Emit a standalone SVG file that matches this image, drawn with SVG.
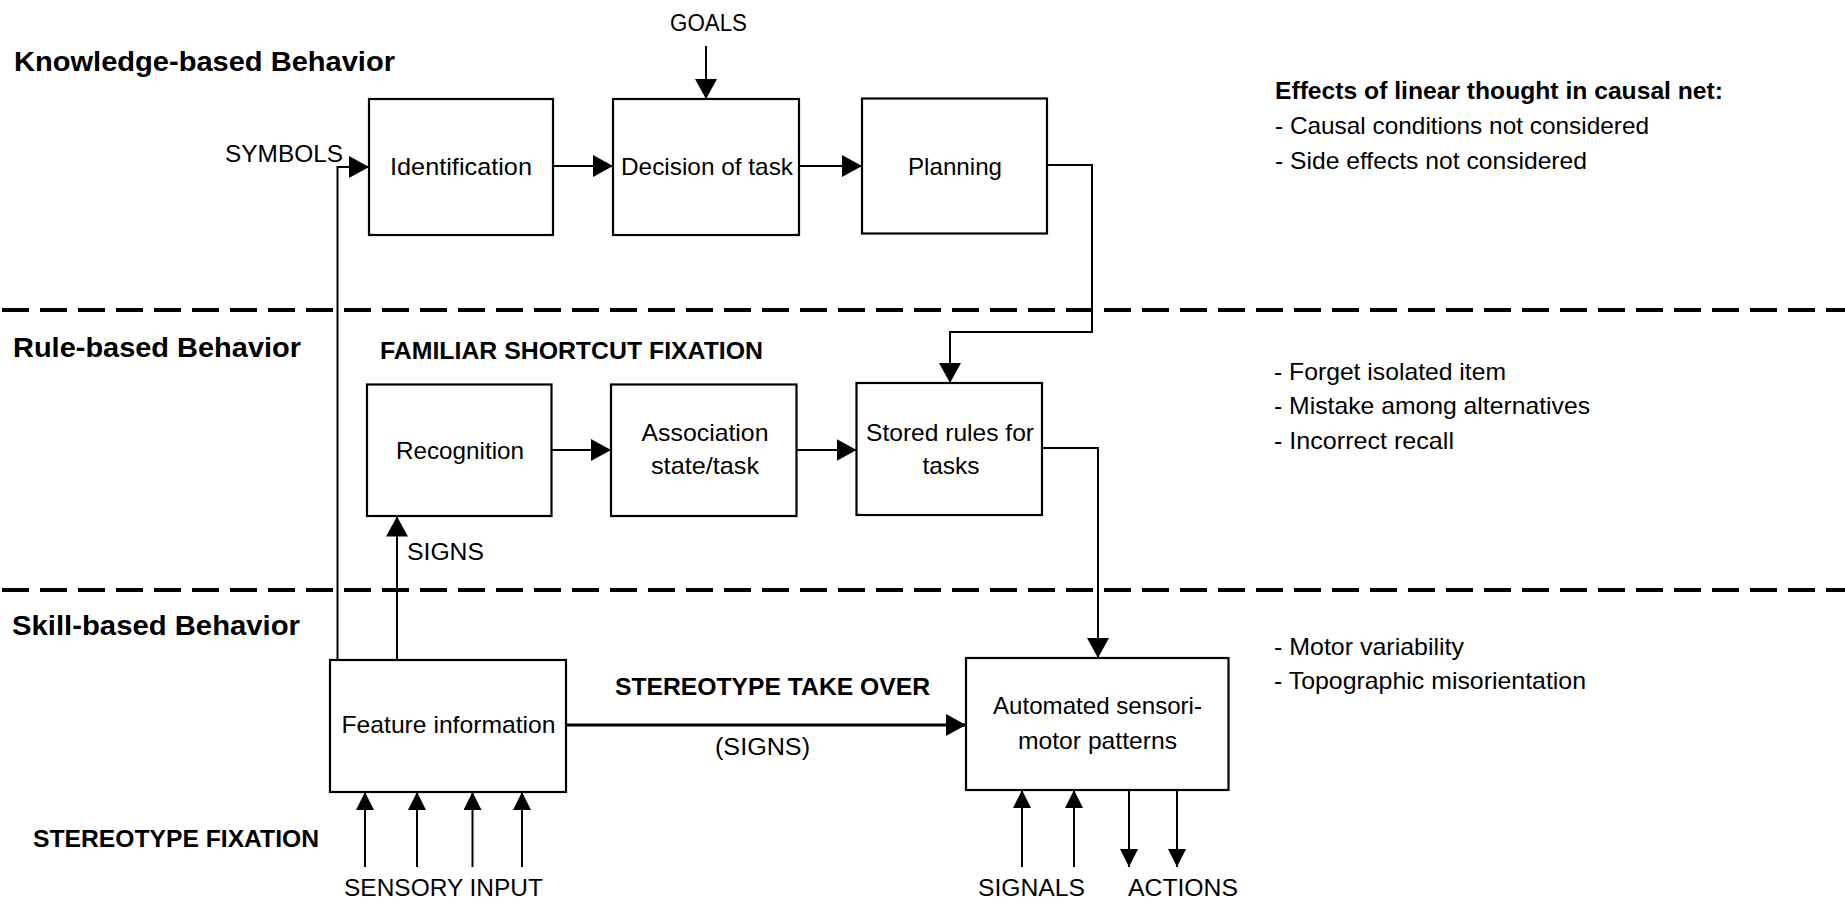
<svg xmlns="http://www.w3.org/2000/svg" width="1845" height="904" viewBox="0 0 1845 904">
  <style>
    text { font-family: "Liberation Sans", Arial, sans-serif; fill: #000; }
    .title { font-size: 28px; font-weight: bold; }
    .head { font-size: 24px; font-weight: bold; }
    .box-text { font-size: 24px; text-anchor: middle; }
    .label { font-size: 23px; }
    .note { font-size: 24px; }
    .box { fill: #fff; stroke: #000; stroke-width: 2.2; }
    .wire { fill: none; stroke: #000; stroke-width: 2; }
    .wire-bold { fill: none; stroke: #000; stroke-width: 3; }
    .level { stroke: #000; stroke-width: 4; stroke-dasharray: 27 11; }
  </style>
  <defs>
    <marker id="arrow" markerUnits="userSpaceOnUse" markerWidth="20" markerHeight="22" refX="20" refY="11" orient="auto">
      <path d="M0,0 L20,11 L0,22 z" fill="#000"/>
    </marker>
    <marker id="arrow-small" markerUnits="userSpaceOnUse" markerWidth="18" markerHeight="18" refX="18" refY="9" orient="auto">
      <path d="M0,0 L18,9 L0,18 z" fill="#000"/>
    </marker>
  </defs>
  <rect width="1845" height="904" fill="#fff"/>

  <!-- level separators -->
  <g id="levels">
    <line class="level" x1="2" y1="310" x2="1845" y2="310"/>
    <line class="level" x1="2" y1="590" x2="1845" y2="590"/>
  </g>

  <!-- level titles -->
  <g id="level-titles">
    <text class="title" x="14" y="71" textLength="381" lengthAdjust="spacingAndGlyphs">Knowledge-based Behavior</text>
    <text class="title" x="13" y="357" textLength="288" lengthAdjust="spacingAndGlyphs">Rule-based Behavior</text>
    <text class="title" x="12" y="635" textLength="288" lengthAdjust="spacingAndGlyphs">Skill-based Behavior</text>
  </g>

  <!-- error-mode headings -->
  <g id="error-headings">
    <text class="head" x="380" y="359" textLength="383" lengthAdjust="spacingAndGlyphs">FAMILIAR SHORTCUT FIXATION</text>
    <text class="head" x="615" y="695" textLength="315" lengthAdjust="spacingAndGlyphs">STEREOTYPE TAKE OVER</text>
    <text class="head" x="33" y="847" textLength="286" lengthAdjust="spacingAndGlyphs">STEREOTYPE FIXATION</text>
  </g>

  <!-- side notes -->
  <g id="notes-knowledge">
    <text class="head" x="1275" y="99" textLength="448" lengthAdjust="spacingAndGlyphs">Effects of linear thought in causal net:</text>
    <text class="note" x="1275" y="134" textLength="374" lengthAdjust="spacingAndGlyphs">- Causal conditions not considered</text>
    <text class="note" x="1275" y="169" textLength="312" lengthAdjust="spacingAndGlyphs">- Side effects not considered</text>
  </g>
  <g id="notes-rule">
    <text class="note" x="1274" y="380" textLength="232" lengthAdjust="spacingAndGlyphs">- Forget isolated item</text>
    <text class="note" x="1274" y="414" textLength="316" lengthAdjust="spacingAndGlyphs">- Mistake among alternatives</text>
    <text class="note" x="1274" y="449" textLength="180" lengthAdjust="spacingAndGlyphs">- Incorrect recall</text>
  </g>
  <g id="notes-skill">
    <text class="note" x="1274" y="655" textLength="190" lengthAdjust="spacingAndGlyphs">- Motor variability</text>
    <text class="note" x="1274" y="689" textLength="312" lengthAdjust="spacingAndGlyphs">- Topographic misorientation</text>
  </g>

  <!-- connectors -->
  <g id="connectors">
    <polyline class="wire" points="337.5,660 337.5,167 369,167" marker-end="url(#arrow)"/>
    <line class="wire" x1="397" y1="660" x2="397" y2="516.5" marker-end="url(#arrow)"/>
    <line class="wire" x1="706" y1="46" x2="706" y2="99" marker-end="url(#arrow)"/>
    <line class="wire" x1="553" y1="166" x2="613" y2="166" marker-end="url(#arrow)"/>
    <line class="wire" x1="799" y1="166" x2="862" y2="166" marker-end="url(#arrow)"/>
    <polyline class="wire" points="1047,165 1092,165 1092,332 950,332 950,383" marker-end="url(#arrow)"/>
    <line class="wire" x1="551.5" y1="450" x2="611" y2="450" marker-end="url(#arrow)"/>
    <line class="wire" x1="796.5" y1="450" x2="856.5" y2="450" marker-end="url(#arrow)"/>
    <polyline class="wire" points="1042,448 1098,448 1098,658" marker-end="url(#arrow)"/>
    <line class="wire-bold" x1="566" y1="725" x2="966" y2="725" marker-end="url(#arrow)"/>
    <line class="wire" x1="365" y1="867" x2="365" y2="792" marker-end="url(#arrow-small)"/>
    <line class="wire" x1="417" y1="867" x2="417" y2="792" marker-end="url(#arrow-small)"/>
    <line class="wire" x1="472.5" y1="867" x2="472.5" y2="792" marker-end="url(#arrow-small)"/>
    <line class="wire" x1="522" y1="867" x2="522" y2="792" marker-end="url(#arrow-small)"/>
    <line class="wire" x1="1022" y1="867" x2="1022" y2="790" marker-end="url(#arrow-small)"/>
    <line class="wire" x1="1074" y1="867" x2="1074" y2="790" marker-end="url(#arrow-small)"/>
    <line class="wire" x1="1129" y1="790" x2="1129" y2="867" marker-end="url(#arrow-small)"/>
    <line class="wire" x1="1177" y1="790" x2="1177" y2="867" marker-end="url(#arrow-small)"/>
  </g>

  <!-- connector labels -->
  <g id="connector-labels">
    <text class="label" x="225" y="162" textLength="118" lengthAdjust="spacingAndGlyphs">SYMBOLS</text>
    <text class="label" x="670" y="31" textLength="77" lengthAdjust="spacingAndGlyphs">GOALS</text>
    <text class="label" x="407" y="560" textLength="77" lengthAdjust="spacingAndGlyphs">SIGNS</text>
    <text class="label" x="715" y="755" textLength="95" lengthAdjust="spacingAndGlyphs">(SIGNS)</text>
    <text class="label" x="344" y="896" textLength="199" lengthAdjust="spacingAndGlyphs">SENSORY INPUT</text>
    <text class="label" x="978" y="896" textLength="107" lengthAdjust="spacingAndGlyphs">SIGNALS</text>
    <text class="label" x="1128" y="896" textLength="110" lengthAdjust="spacingAndGlyphs">ACTIONS</text>
  </g>

  <!-- knowledge level -->
  <g id="identification">
    <rect class="box" x="369" y="99" width="184" height="136"/>
    <text class="box-text" x="461" y="175" textLength="142" lengthAdjust="spacingAndGlyphs">Identification</text>
  </g>
  <g id="decision">
    <rect class="box" x="613" y="99" width="186" height="136"/>
    <text class="box-text" x="707" y="175" textLength="172" lengthAdjust="spacingAndGlyphs">Decision of task</text>
  </g>
  <g id="planning">
    <rect class="box" x="862" y="98.5" width="185" height="135"/>
    <text class="box-text" x="955" y="175" textLength="94" lengthAdjust="spacingAndGlyphs">Planning</text>
  </g>

  <!-- rule level -->
  <g id="recognition">
    <rect class="box" x="367" y="384.5" width="184.5" height="131.5"/>
    <text class="box-text" x="460" y="459" textLength="128" lengthAdjust="spacingAndGlyphs">Recognition</text>
  </g>
  <g id="association">
    <rect class="box" x="611" y="384.5" width="185.5" height="131.5"/>
    <text class="box-text" x="705" y="441" textLength="127" lengthAdjust="spacingAndGlyphs">Association</text>
    <text class="box-text" x="705" y="474" textLength="108" lengthAdjust="spacingAndGlyphs">state/task</text>
  </g>
  <g id="stored-rules">
    <rect class="box" x="856.5" y="383" width="185.5" height="132"/>
    <text class="box-text" x="950" y="441" textLength="168" lengthAdjust="spacingAndGlyphs">Stored rules for</text>
    <text class="box-text" x="951" y="474" textLength="57" lengthAdjust="spacingAndGlyphs">tasks</text>
  </g>

  <!-- skill level -->
  <g id="feature-information">
    <rect class="box" x="330" y="660" width="236" height="132"/>
    <text class="box-text" x="448.5" y="733" textLength="214" lengthAdjust="spacingAndGlyphs">Feature information</text>
  </g>
  <g id="sensorimotor-patterns">
    <rect class="box" x="966" y="658" width="262.5" height="132"/>
    <text class="box-text" x="1097.5" y="714" textLength="209" lengthAdjust="spacingAndGlyphs">Automated sensori-</text>
    <text class="box-text" x="1097.5" y="749" textLength="159" lengthAdjust="spacingAndGlyphs">motor patterns</text>
  </g>
</svg>
